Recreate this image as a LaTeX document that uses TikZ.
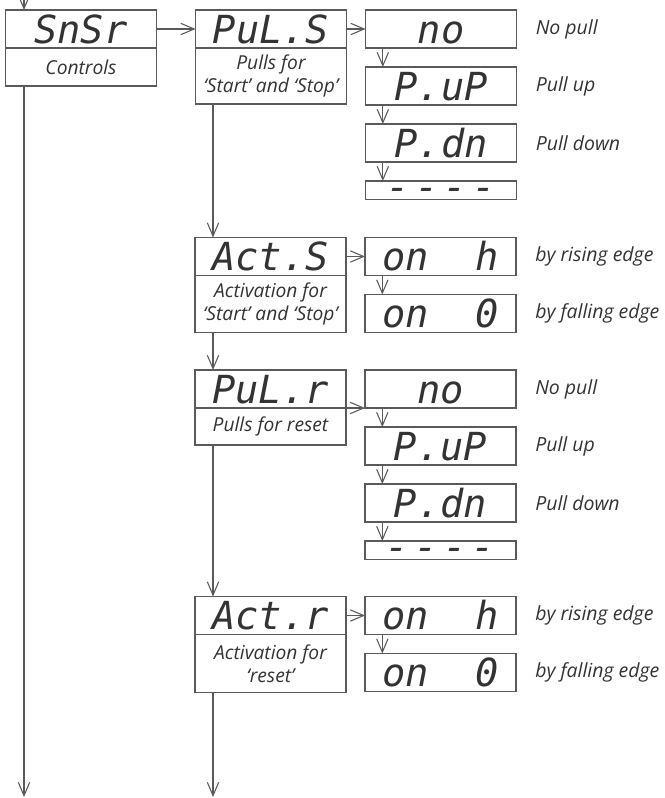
\documentclass[tikz,border=0pt]{standalone}
\usepackage{fontspec}
\setmainfont{Open Sans}
\newfontfamily\segfont{DejaVu Sans Mono}
\usepackage{tikz}
\usetikzlibrary{arrows.meta, positioning}
\definecolor{linegray}{HTML}{5A5A5A}
\definecolor{inkgray}{HTML}{333333}
\tikzset{
  segbox/.style={
    draw=linegray, line width=0.8pt, outer sep=0pt, inner sep=0pt,
    minimum width=113.25pt, minimum height=28.5pt,
    text=inkgray, font=\segfont\itshape\fontsize{29}{29}\selectfont,
    text height=21.2pt, text depth=0pt
  },
  dashbox/.style={
    segbox, minimum height=14pt, text height=0pt, text depth=0pt
  },
  descbox/.style={
    draw=linegray, line width=0.8pt, outer sep=0pt, inner sep=0.5pt,
    minimum width=113.25pt, minimum height=#1,
    align=center, text=inkgray, font=\itshape\fontsize{14.4}{17.5}\selectfont
  },
  descbox/.default=28.5pt,
  lbl/.style={text=inkgray, inner sep=0pt, font=\itshape\fontsize{14.6}{18}\selectfont},
  darrow/.style={-{Straight Barb[length=10pt, width=8.5pt]}, line width=0.8pt, color=linegray}
}

\begin{document}
\begin{tikzpicture}[x=0.75pt, y=-0.75pt, node distance=14.25pt]
    \useasboundingbox (0,0) rectangle (664,798);

    % Main menu
    \node[segbox] (snsr) at (81,29) {SnSr};
    \node[descbox, below=0pt of snsr] (ctrl) {Controls};

    % Inputs settings
    \node[segbox, right=29.25pt of snsr] (puls) {PuL.S};
    \node[descbox=42pt, below=0pt of puls] (pulsd) {Pulls for\\‘Start’ and ‘Stop’};
    \node[segbox] (acts) at (270.5,256.5) {Act.S};
    \node[descbox=42.75pt, below=0pt of acts] (actsd) {Activation for\\‘Start’ and ‘Stop’};
    \node[segbox] (pulr) at (270.5,389) {PuL.r};
    \node[descbox=27.75pt, below=0pt of pulr] (pulrd) {Pulls for reset};
    \node[segbox] (actr) at (270.5,615.5) {Act.r};
    \node[descbox=43.5pt, below=0pt of actr] (actrd) {Activation for\\‘reset’};

    % Values for PuL.S
    \node[segbox, right=of puls] (no1) {no};
    \node[segbox, below=of no1] (pup1) {P.uP};
    \node[segbox, below=of pup1] (pdn1) {P.dn};
    \node[dashbox, below=of pdn1] (dash1) {\raisebox{-0.27em}{-\kern4pt-\kern4pt-\kern4pt-}};
    \node[lbl, right=of no1] (no1l) {No pull};
    \node[lbl, right=of pup1] (pup1l) {Pull up};
    \node[lbl, right=of pdn1] (pdn1l) {Pull down};

    % Values for Act.S
    \node[segbox, right=of acts] (onh1) {on\ \ h};
    \node[segbox, below=of onh1] (on01) {on\ \ 0};
    \node[lbl, right=of onh1] (onh1l) {by rising edge};
    \node[lbl, right=of on01] (on01l) {by falling edge};

    % Values for PuL.r
    \node[segbox, right=of pulr] (no2) {no};
    \node[segbox, below=of no2] (pup2) {P.uP};
    \node[segbox, below=of pup2] (pdn2) {P.dn};
    \node[dashbox, below=of pdn2] (dash2) {\raisebox{-0.27em}{-\kern4pt-\kern4pt-\kern4pt-}};
    \node[lbl, right=of no2] (no2l) {No pull};
    \node[lbl, right=of pup2] (pup2l) {Pull up};
    \node[lbl, right=of pdn2] (pdn2l) {Pull down};

    % Values for Act.r
    \node[segbox, right=of actr] (onh2) {on\ \ h};
    \node[segbox, below=of onh2] (on02) {on\ \ 0};
    \node[lbl, right=of onh2] (onh2l) {by rising edge};
    \node[lbl, right=of on02] (on02l) {by falling edge};

    % Free ends
    \coordinate (in1) at (24,-4);
    \coordinate (out1) at (24,797);
    \coordinate (out2) at (213,797);

    % Main flow
    \draw[darrow] (in1) -- (in1 |- snsr.north);
    \draw[darrow] (ctrl.south -| out1) -- (out1);
    \draw[darrow] (snsr) -- (puls);

    % Down the settings
    \draw[darrow] (pulsd.south -| out2) -- (acts.north -| out2);
    \draw[darrow] (actsd.south -| out2) -- (pulr.north -| out2);
    \draw[darrow] (pulrd.south -| out2) -- (actr.north -| out2);
    \draw[darrow] (actrd.south -| out2) -- (out2);

    % Into the values
    \draw[darrow] (puls) -- (no1);
    \draw[darrow] (acts) -- (onh1);
    \draw[darrow] (pulr.south east) -- (no2.south west);
    \draw[darrow] (actr) -- (onh2);

    % Down the values
    \draw[darrow] ([xshift=13pt]no1.south west) -- ([xshift=13pt]pup1.north west);
    \draw[darrow] ([xshift=13pt]pup1.south west) -- ([xshift=13pt]pdn1.north west);
    \draw[darrow] ([xshift=13pt]pdn1.south west) -- ([xshift=13pt]dash1.north west);
    \draw[darrow] ([xshift=13pt]onh1.south west) -- ([xshift=13pt]on01.north west);
    \draw[darrow] ([xshift=13pt]no2.south west) -- ([xshift=13pt]pup2.north west);
    \draw[darrow] ([xshift=13pt]pup2.south west) -- ([xshift=13pt]pdn2.north west);
    \draw[darrow] ([xshift=13pt]pdn2.south west) -- ([xshift=13pt]dash2.north west);
    \draw[darrow] ([xshift=13pt]onh2.south west) -- ([xshift=13pt]on02.north west);
\end{tikzpicture}
\end{document}
